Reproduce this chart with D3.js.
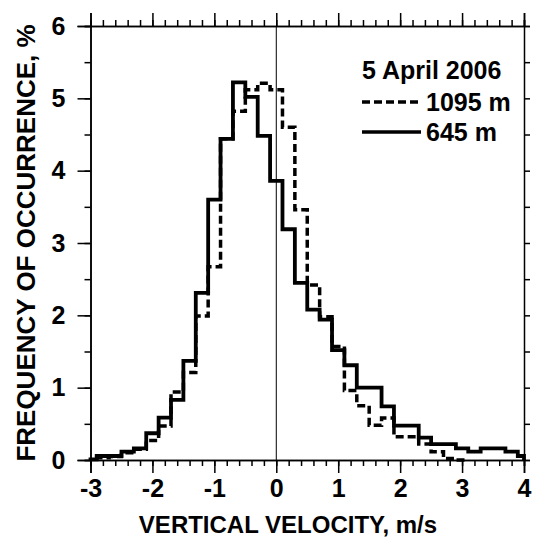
<!DOCTYPE html>
<html>
<head>
<meta charset="utf-8">
<script src="https://cdn.jsdelivr.net/npm/d3@7"></script>
<style>
  html, body { margin: 0; padding: 0; background: #fff; }
  svg { display: block; }
  text { font-family: "Liberation Sans", Arial, sans-serif; font-weight: bold; fill: #000; }
</style>
</head>
<body>
<div id="chart"></div>
<script>
// Bin centres (m/s), bin width 0.2
const binCenters645 = [-3.0,-2.8,-2.6,-2.4,-2.2,-2.0,-1.8,-1.6,-1.4,-1.2,-1.0,-0.8,-0.6,-0.4,-0.2,0.0,0.2,0.4,0.6,0.8,1.0,1.2,1.4,1.6,1.8,2.0,2.2,2.4,2.6,2.8,3.0,3.2,3.4,3.6,3.8,4.0];
const freq645 =       [0.01,0.055,0.055,0.115,0.16,0.37,0.585,0.83,1.37,2.31,3.60,4.44,5.22,5.02,4.48,3.86,3.19,2.45,2.08,1.94,1.52,1.31,1.00,1.00,0.74,0.475,0.475,0.31,0.22,0.22,0.16,0.115,0.16,0.16,0.115,0.055];

const binCenters1095 = [-2.8,-2.6,-2.4,-2.2,-2.0,-1.8,-1.6,-1.4,-1.2,-1.0,-0.8,-0.6,-0.4,-0.2,0.0,0.2,0.4,0.6,0.8,1.0,1.2,1.4,1.6,1.8,2.0,2.2,2.4,2.6,2.8,3.0];
const freq1095 =       [0.03,0.05,0.10,0.15,0.27,0.47,0.94,1.21,1.99,2.67,4.44,4.82,5.12,5.21,5.12,4.60,3.46,2.42,1.98,1.57,0.96,0.75,0.48,0.58,0.32,0.32,0.22,0.115,0.02,0.0];

const binWidth = 0.2;
const xTicksMajor = [-3,-2,-1,0,1,2,3,4];
const yTicksMajor = [0,1,2,3,4,5,6];
const legendTitle = "5 April 2006";
const seriesNames = ["1095 m", "645 m"];
const xTitle = "VERTICAL VELOCITY, m/s";
const yTitle = "FREQUENCY OF OCCURRENCE, %";

const W = 534, H = 541;
const L = 90.5, R = 524, T = 26, B = 460;

const svg = d3.select("#chart").append("svg").attr("width", W).attr("height", H);

const x = d3.scaleLinear().domain([-3, 4]).range([L, R]);
const y = d3.scaleLinear().domain([0, 6]).range([B, T]);

const xMinor = d3.range(-3, 4.0001, 0.2).map(v => Math.round(v * 10) / 10);
const yMinor = d3.range(0, 6.0001, 0.5);

function styleAxis(g) {
  g.selectAll(".domain").attr("stroke", "#000").attr("stroke-width", 1.5);
  g.selectAll(".tick line").attr("stroke", "#000").attr("stroke-width", 1.5);
}

// bottom minor + major
svg.append("g").attr("transform", `translate(0,${B})`)
  .call(d3.axisBottom(x).tickValues(xMinor).tickSize(6).tickFormat(""))
  .call(styleAxis);
const bx = svg.append("g").attr("transform", `translate(0,${B})`)
  .call(d3.axisBottom(x).tickValues(xTicksMajor).tickSize(13).tickPadding(6).tickFormat(d => d < 0 ? "-" + Math.abs(d) : d))
  .call(styleAxis);
bx.selectAll("text").style("font-size", "25px").attr("dy", "0.71em");

// top
svg.append("g").attr("transform", `translate(0,${T})`)
  .call(d3.axisTop(x).tickValues(xMinor).tickSize(6).tickFormat(""))
  .call(styleAxis);
svg.append("g").attr("transform", `translate(0,${T})`)
  .call(d3.axisTop(x).tickValues(xTicksMajor).tickSize(13).tickFormat(""))
  .call(styleAxis);

// left
svg.append("g").attr("transform", `translate(${L},0)`)
  .call(d3.axisLeft(y).tickValues(yMinor).tickSize(6).tickFormat(""))
  .call(styleAxis);
const ly = svg.append("g").attr("transform", `translate(${L},0)`)
  .call(d3.axisLeft(y).tickValues(yTicksMajor).tickSize(13).tickPadding(12).tickFormat(d3.format("d")))
  .call(styleAxis);
ly.selectAll("text").style("font-size", "25px");

// right
svg.append("g").attr("transform", `translate(${R},0)`)
  .call(d3.axisRight(y).tickValues(yMinor).tickSize(6).tickFormat(""))
  .call(styleAxis);

// zero line
svg.append("line")
  .attr("x1", x(0)).attr("x2", x(0)).attr("y1", T).attr("y2", B)
  .attr("stroke", "#000").attr("stroke-width", 1);

// step paths
function stepPoints(centers, vals) {
  const clamp = v => Math.max(-3, Math.min(4, v));
  const pts = [];
  pts.push([clamp(centers[0] - binWidth / 2), 0]);
  centers.forEach((c, i) => {
    pts.push([clamp(c - binWidth / 2), vals[i]]);
    pts.push([clamp(c + binWidth / 2), vals[i]]);
  });
  pts.push([clamp(centers[centers.length - 1] + binWidth / 2), 0]);
  return pts;
}
const line = d3.line().x(d => x(d[0])).y(d => y(d[1]));

svg.append("path")
  .attr("d", line(stepPoints(binCenters1095, freq1095)))
  .attr("fill", "none").attr("stroke", "#000").attr("stroke-width", 3.5)
  .attr("stroke-dasharray", "8,4");

svg.append("path")
  .attr("d", line(stepPoints(binCenters645, freq645)))
  .attr("fill", "none").attr("stroke", "#000").attr("stroke-width", 3.8);

// legend
svg.append("text").attr("x", 362).attr("y", 79).style("font-size", "25px").text(legendTitle);
svg.append("line").attr("x1", 362).attr("x2", 421).attr("y1", 102).attr("y2", 102)
  .attr("stroke", "#000").attr("stroke-width", 3.5).attr("stroke-dasharray", "8,4");
svg.append("text").attr("x", 426).attr("y", 111).style("font-size", "25px").text(seriesNames[0]);
svg.append("line").attr("x1", 362).attr("x2", 421).attr("y1", 132).attr("y2", 132)
  .attr("stroke", "#000").attr("stroke-width", 3.5);
svg.append("text").attr("x", 426).attr("y", 141).style("font-size", "25px").text(seriesNames[1]);

// titles
svg.append("text").attr("x", 288).attr("y", 533).attr("text-anchor", "middle")
  .style("font-size", "24px").text(xTitle);
svg.append("text").attr("transform", "translate(35,243) rotate(-90)").attr("text-anchor", "middle")
  .style("font-size", "26px").text(yTitle);
</script>
</body>
</html>
